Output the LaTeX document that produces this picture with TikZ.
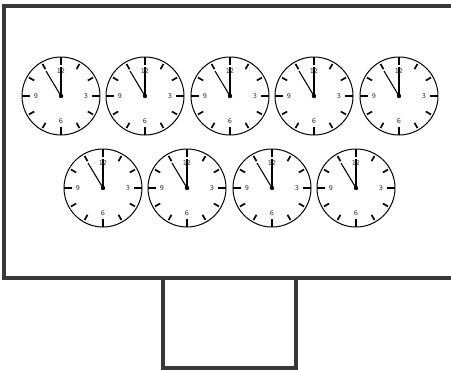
\documentclass[tikz,border=0pt]{standalone}
\usepackage{fontspec}
\setmainfont{DejaVu Sans}
\definecolor{framegray}{HTML}{383838}
\definecolor{labelgray}{HTML}{333333}
\begin{document}
\begin{tikzpicture}[x=1pt,y=-1pt,
  frameline/.style={draw=framegray,line width=3.3pt},
  dial/.style={circle,draw=black,line width=1pt,minimum size=78pt,inner sep=0pt,fill=white},
  numlabel/.style={font=\fontsize{6.5}{7}\selectfont,text=labelgray,inner sep=0pt},
  pics/clock/.style={code={
    \node[dial] (-face) at (0,0) {};
    \foreach \a in {0,30,...,330}{
      \draw[line width=1.7pt] (\a:31) -- (\a:37);
    }
    \foreach \a in {0,90,180,270}{
      \draw[line width=1.3pt] (\a:31) -- (\a:39);
    }
    \node[numlabel] (-n12) at (0,-25) {12};
    \node[numlabel] (-n3) at (25,0) {3};
    \node[numlabel] (-n6) at (0,25) {6};
    \node[numlabel] (-n9) at (-25,0) {9};
    \draw[line width=1.1pt] (0,0) -- (0,-29);
    \draw[line width=1.1pt] (0,0) -- (-15,-25);
    \fill (0,0) circle (2.2pt);
  }}]
\useasboundingbox (0,0) rectangle (451,370);
\draw[frameline] (460,6) -- (4,6) -- (4,278) -- (460,278);
\draw[frameline] (163,279) -- (163,368) -- (296,368) -- (296,279);
\foreach \x [count=\i] in {61,145,230,314,399}{
  \pic (top\i) at (\x,96) {clock};
}
\foreach \x [count=\i] in {103,187,272,356}{
  \pic (bot\i) at (\x,188) {clock};
}
\end{tikzpicture}
\end{document}
